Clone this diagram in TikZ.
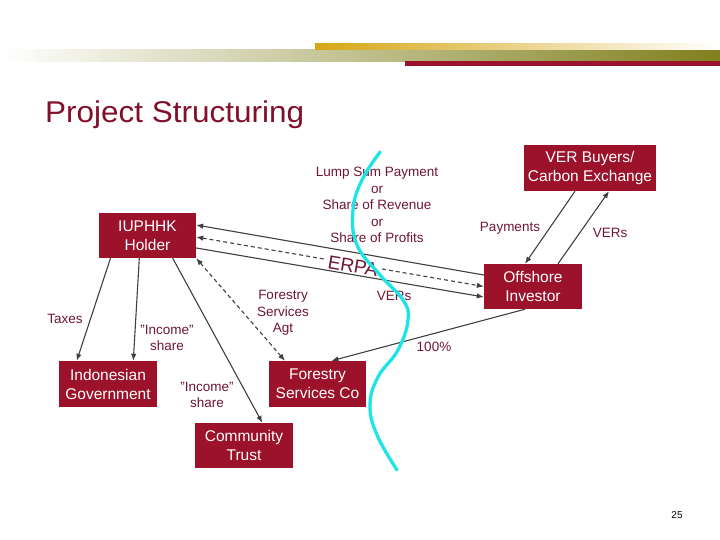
\documentclass[tikz,border=0pt]{standalone}
\usepackage{fontspec}
\setmainfont{Liberation Sans}
\usetikzlibrary{arrows.meta,calc}
\definecolor{boxred}{RGB}{155,18,42}
\definecolor{titlered}{RGB}{130,16,42}
\definecolor{lblred}{RGB}{112,22,52}
\definecolor{linegray}{RGB}{64,64,64}
\definecolor{cyanline}{RGB}{30,228,232}
\definecolor{goldbar}{RGB}{214,166,22}
\definecolor{olivebar}{RGB}{128,128,30}
\definecolor{redbar}{RGB}{155,18,45}
\begin{document}
\begin{tikzpicture}[x=1pt,y=-1pt,
  box/.style={rectangle, fill=boxred, text=white, align=center, inner sep=0pt,
    font=\fontsize{15.5}{19}\selectfont},
  lbl/.style={text=lblred, align=center, inner sep=0pt,
    font=\fontsize{13.5}{16.5}\selectfont},
  conn/.style={draw=linegray, line width=1.1pt},
  endtip/.style={-{Latex[length=7pt,width=5.5pt]}},
  starttip/.style={{Latex[length=7pt,width=5.5pt]}-},
  bothtips/.style={{Latex[length=7pt,width=5.5pt]}-{Latex[length=7pt,width=5.5pt]}},
  dsh/.style={dash pattern=on 4pt off 3pt}]
\useasboundingbox (0,0) rectangle (720,540);
\fill[white] (0,0) rectangle (720,540);
% header bars
\shade[left color=white, right color=olivebar] (0,50) rectangle (720,61.5);
\shade[left color=goldbar, right color=white] (315,44) rectangle (720,50);
\fill[redbar] (405,61.5) rectangle (720,66.5);
% title
\node[anchor=base west, inner sep=0pt, text=titlered, font=\fontsize{30}{36}\selectfont]
  (title) at (45,122.5) {\scalebox{1.05}[1]{Project Structuring}};
% boxes
\node[box, minimum width=97pt, minimum height=45pt] (holder) at (147.5,235.5) {IUPHHK\\Holder};
\node[box, minimum width=132pt, minimum height=46pt] (ver) at (590,168) {VER Buyers/\\Carbon Exchange};
\node[box, minimum width=98pt, minimum height=45pt] (offshore) at (533,286.5) {Offshore\\Investor};
\node[box, minimum width=98pt, minimum height=46pt] (gov) at (108,384) {Indonesian\\Government};
\node[box, minimum width=97pt, minimum height=46pt] (fsco) at (317.5,384) {Forestry\\Services Co};
\node[box, minimum width=98pt, minimum height=45pt] (trust) at (244,445.5) {Community\\Trust};
% ERPA dashed line (behind label)
\draw[conn, dsh, bothtips] ([yshift=-1.5pt]holder.east) -- ([yshift=0pt]offshore.west);
\node[lbl, fill=white, inner xsep=4pt, inner ysep=0.5pt, rotate=-9.5,
  font=\fontsize{19}{22}\selectfont] (erpa) at (353,266) {ERPA};
% solid ERPA lines
\draw[conn, starttip] ([yshift=10.5pt]holder.east) -- ([yshift=11.5pt]offshore.west);
\draw[conn, endtip] ([yshift=-12.5pt]holder.east) -- ([yshift=-10.5pt]offshore.west);
% holder downward
\draw[conn, endtip] ([xshift=-37pt]holder.south) -- ([xshift=-31.3pt]gov.north);
\draw[conn, endtip] ([xshift=-8.2pt]holder.south) -- ([xshift=25.3pt]gov.north);
\draw[conn, endtip] ([xshift=25.2pt]holder.south) -- ([xshift=18.3pt]trust.north);
\draw[conn, dsh, bothtips] (holder.south east) -- ([xshift=-32.5pt]fsco.north);
% offshore links
\draw[conn, endtip] ([xshift=-8pt]offshore.south) -- ([xshift=14pt]fsco.north);
\draw[conn, endtip] ([xshift=-15pt]ver.south) -- ([xshift=-8pt]offshore.north);
\draw[conn, endtip] ([xshift=25pt]offshore.north) -- ([xshift=19pt]ver.south);
% labels
\node[lbl] (lump) at (377,205) {Lump Sum Payment\\or\\Share of Revenue\\or\\Share of Profits};
\node[lbl] (versmid) at (394,296) {VERs};
\node[lbl] (fsagt) at (283,313) {Forestry\\Services\\Agt};
\node[lbl] (pct) at (434,347) {100\%};
\node[lbl] (taxes) at (65,319) {Taxes};
\node[lbl] (inc1) at (167,338) {"Income"\\share};
\node[lbl] (inc2) at (207,395) {"Income"\\share};
\node[lbl] (pay) at (510,228) {Payments};
\node[lbl] (versr) at (610,233) {VERs};
% page number
\node[inner sep=0pt, font=\fontsize{10}{12}\selectfont] (pnum) at (677,515) {25};
% cyan boundary
\draw[cyanline, line width=3.3pt, line cap=round] plot[smooth, tension=0.7] coordinates {
  (380,152) (362,180) (353,210) (357,245) (380,275) (403,300) (408,320)
  (398,350) (378,377) (370,405) (377,435) (397,470)};
\end{tikzpicture}
\end{document}
